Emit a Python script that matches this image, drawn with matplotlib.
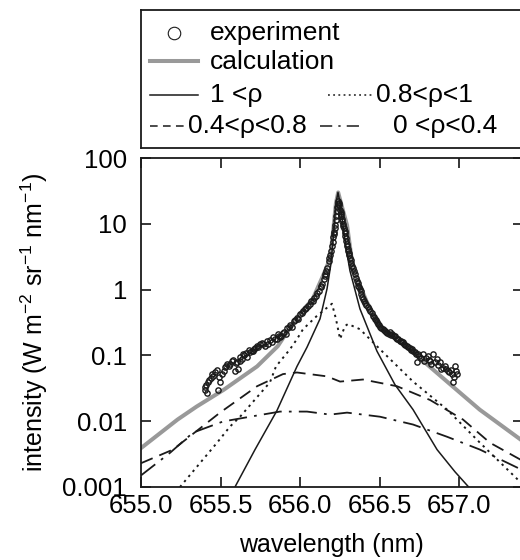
import matplotlib
matplotlib.use('Agg')
import matplotlib.pyplot as plt
from matplotlib.ticker import FixedLocator, FixedFormatter

plt.rcParams['font.family'] = ['Liberation Sans', 'DejaVu Sans']
plt.rcParams['mathtext.fontset'] = 'custom'
plt.rcParams['mathtext.rm'] = 'Liberation Sans'
plt.rcParams['mathtext.it'] = 'Liberation Sans:italic'

# measured spectrum (open circles)
exp_wl = [655.40, 655.41, 655.415, 655.421, 655.44, 655.447, 655.465, 655.484, 655.497, 655.509,
          655.528, 655.541, 655.553, 655.572, 655.591, 655.604, 655.61, 655.62, 655.635, 655.642,
          655.65, 655.667, 655.68, 655.686, 655.704, 655.71, 655.736, 655.748, 655.76, 655.78,
          655.79, 655.80, 655.824, 655.83, 655.855, 655.86, 655.874,
          655.88, 655.90, 655.91, 655.92, 655.94, 655.95, 655.96, 655.98, 655.99, 656.00,
          656.02, 656.03, 656.04, 656.06, 656.07, 656.08, 656.10, 656.11, 656.12, 656.13,
          656.14, 656.15, 656.155, 656.165, 656.17, 656.18, 656.19, 656.195, 656.20, 656.205,
          656.21, 656.215, 656.22, 656.225, 656.228, 656.232, 656.235, 656.24, 656.245, 656.252,
          656.258, 656.264, 656.27, 656.277, 656.283, 656.289, 656.295, 656.302, 656.308, 656.314,
          656.322, 656.333, 656.345, 656.358, 656.367, 656.377, 656.386, 656.396, 656.41, 656.428,
          656.44, 656.459, 656.47, 656.484, 656.495, 656.503, 656.52, 656.535, 656.55, 656.566,
          656.58, 656.597, 656.61, 656.629, 656.64, 656.648, 656.66, 656.673, 656.69, 656.704,
          656.723, 656.736, 656.742, 656.774, 656.78, 656.805, 656.818, 656.836, 656.849, 656.881,
          656.888, 656.912, 656.931, 656.956, 656.962, 656.975, 656.987,
          655.405, 655.43, 655.455, 655.475, 655.49, 655.52, 655.535, 655.56, 655.58, 655.595,
          655.625, 655.66, 655.695, 655.72, 655.73, 655.77, 655.81, 655.84, 655.865,
          655.89, 655.93, 655.97, 656.01, 656.05, 656.09, 656.135, 656.16, 656.185, 656.212,
          656.218, 656.238, 656.248, 656.255, 656.261, 656.267, 656.273, 656.28, 656.286, 656.292,
          656.298, 656.305, 656.311, 656.318, 656.327, 656.339, 656.351, 656.362, 656.372, 656.381,
          656.391, 656.403, 656.418, 656.434, 656.45, 656.465, 656.477, 656.49, 656.51, 656.527,
          656.543, 656.558, 656.573, 656.59, 656.603, 656.618, 656.635,
          656.655, 656.68, 656.695, 656.71, 656.73, 656.75, 656.76, 656.79, 656.81, 656.825,
          656.86, 656.87, 656.90, 656.92, 656.94, 656.95, 656.97, 656.98]
exp_int = [0.030, 0.035, 0.027, 0.039, 0.045, 0.052, 0.055, 0.030, 0.040, 0.052,
           0.066, 0.073, 0.068, 0.081, 0.057, 0.079, 0.062, 0.095, 0.087, 0.104,
           0.100, 0.094, 0.120, 0.112, 0.116, 0.125, 0.133, 0.148, 0.155, 0.138,
           0.165, 0.148, 0.159, 0.190, 0.177, 0.210, 0.190,
           0.20, 0.23, 0.21, 0.26, 0.29, 0.27, 0.33, 0.37, 0.36, 0.42,
           0.47, 0.50, 0.53, 0.60, 0.66, 0.68, 0.80, 0.88, 0.95, 1.10,
           1.2, 1.45, 1.6, 1.9, 2.1, 2.7, 3.4, 3.9, 4.6, 5.3,
           6.2, 7.6, 9.5, 11.5, 13, 15.5, 18, 22, 21, 16,
           14, 12, 10, 8.5, 7.2, 6.0, 5.0, 4.2, 3.6, 3.0,
           2.5, 2.1, 1.7, 1.36, 1.15, 1.03, 0.85, 0.72, 0.62, 0.55,
           0.48, 0.40, 0.36, 0.32, 0.29, 0.27, 0.25, 0.233, 0.22, 0.226,
           0.21, 0.197, 0.18, 0.165, 0.16, 0.159, 0.145, 0.138, 0.13, 0.124,
           0.112, 0.079, 0.104, 0.104, 0.081, 0.097, 0.081, 0.104, 0.079, 0.079,
           0.0615, 0.068, 0.057, 0.052, 0.039, 0.068, 0.052,
           0.033, 0.042, 0.048, 0.060, 0.047, 0.058, 0.070, 0.075, 0.085, 0.078,
           0.082, 0.108, 0.118, 0.128, 0.140, 0.150, 0.170, 0.180, 0.195,
           0.22, 0.27, 0.34, 0.44, 0.57, 0.74, 1.15, 1.75, 3.0, 7.0,
           8.6, 20, 19, 15, 13, 11, 9.2, 7.8, 6.6, 5.5,
           4.6, 3.9, 3.3, 2.8, 2.3, 1.9, 1.5, 1.25, 1.1, 0.95,
           0.78, 0.67, 0.58, 0.51, 0.44, 0.38, 0.34, 0.30, 0.26, 0.24,
           0.23, 0.215, 0.205, 0.20, 0.185, 0.175, 0.168,
           0.15, 0.135, 0.122, 0.118, 0.105, 0.098, 0.092, 0.090, 0.085, 0.075,
           0.088, 0.071, 0.065, 0.062, 0.055, 0.060, 0.047, 0.058]

# total calculation (thick grey)
calc_wl = [655.00, 655.23, 655.35, 655.52, 655.73, 655.86, 655.98, 656.08, 656.145, 656.19,
           656.21, 656.226, 656.24, 656.258, 656.296, 656.333, 656.42, 656.50, 656.74, 656.93,
           657.13, 657.40]
calc_int = [0.0039, 0.0106, 0.0167, 0.030, 0.068, 0.138, 0.38, 0.72, 1.63, 3.0,
            8.5, 20.5, 30, 20.5, 9.5, 2.1, 0.65, 0.28, 0.097, 0.039,
            0.015, 0.0050]

# contribution 1 < rho
r1_wl = [655.591, 655.717, 655.855, 655.981, 656.044, 656.126, 656.170, 656.195, 656.214, 656.226,
         656.239, 656.252, 656.270, 656.296, 656.314, 656.377, 656.484, 656.597, 656.711, 656.862,
         656.975, 657.069]
r1_int = [0.001, 0.0037, 0.0145, 0.068, 0.133, 0.36, 1.03, 2.5, 8.5, 20.5,
          30, 20.5, 9.5, 3.5, 1.94, 0.51, 0.116, 0.036, 0.015, 0.0037,
          0.0017, 0.00095]

# contribution 0.8 < rho < 1
r08_wl = [655.245, 655.478, 655.560, 655.623, 655.811, 655.849, 655.937, 655.981, 656.019, 656.107,
          656.201, 656.226, 656.252, 656.283, 656.302, 656.377, 656.503, 656.711, 656.925, 657.132,
          657.40]
r08_int = [0.001, 0.0047, 0.0083, 0.0117, 0.039, 0.068, 0.124, 0.177, 0.25, 0.40,
           0.61, 0.36, 0.177, 0.28, 0.30, 0.25, 0.124, 0.040, 0.015, 0.0047,
           0.0011]

# contribution 0.4 < rho < 0.8
r04_wl = [655.00, 655.201, 655.497, 655.730, 655.893, 655.981, 656.170, 656.252, 656.396, 656.610,
          656.818, 657.025, 657.195, 657.40]
r04_int = [0.0023, 0.0037, 0.0135, 0.034, 0.052, 0.055, 0.048, 0.040, 0.043, 0.034,
           0.021, 0.0106, 0.0047, 0.0025]

# contribution 0 < rho < 0.4
r00_wl = [655.00, 655.182, 655.327, 655.516, 655.686, 655.874, 656.044, 656.189, 656.296, 656.503,
          656.711, 656.925, 657.132, 657.40]
r00_int = [0.0015, 0.0033, 0.0067, 0.0099, 0.0117, 0.014, 0.014, 0.0126, 0.0135, 0.0117,
           0.0089, 0.0058, 0.0037, 0.0018]

x_ticks = [655.0, 655.5, 656.0, 656.5, 657.0, 657.5]
y_ticks = [0.001, 0.01, 0.1, 1, 10, 100]
y_labels = ['0.001', '0.01', '0.1', '1', '10', '100']

fig = plt.figure(figsize=(5.2, 5.6), dpi=100)
ax = fig.add_axes([141/520, 73/560, 381.6/520, 329/560])

dot = (0, (1.2, 2.2))
dash = (0, (7, 4))
dashdot = (0, (10, 4, 1.5, 4))

ax.plot(calc_wl, calc_int, color='#999999', lw=2.9, zorder=2)
ax.plot(r1_wl, r1_int, color='#1a1a1a', lw=1.1, zorder=3)
ax.plot(r08_wl, r08_int, color='#1a1a1a', lw=1.4, ls=dot, zorder=3)
ax.plot(r04_wl, r04_int, color='#1a1a1a', lw=1.3, ls=dash, zorder=3)
ax.plot(r00_wl, r00_int, color='#1a1a1a', lw=1.3, ls=dashdot, zorder=3)
ax.plot(exp_wl, exp_int, 'o', ms=3.8, mfc='none', mec='#1a1a1a', mew=1.0, zorder=4)

ax.set_yscale('log')
ax.set_xlim(655.0, 657.4)
ax.set_ylim(0.001, 100)
ax.xaxis.set_major_locator(FixedLocator(x_ticks))
ax.set_xticklabels(['%.1f' % t for t in x_ticks])
ax.yaxis.set_major_locator(FixedLocator(y_ticks))
ax.yaxis.set_major_formatter(FixedFormatter(y_labels))
ax.yaxis.set_minor_locator(FixedLocator([]))
ax.tick_params(direction='in', length=7, width=1.1, top=True, right=True, labelsize=18.5)
ax.tick_params(axis='x', pad=5)
ax.tick_params(axis='y', pad=10)
for s in ax.spines.values():
    s.set_linewidth(1.3)
    s.set_color('#1a1a1a')

ax.set_xlabel('wavelength (nm)', fontsize=18, labelpad=11)
ax.set_ylabel(r'intensity (W m$^{-2}$ sr$^{-1}$ nm$^{-1}$)', fontsize=18, labelpad=9)

# legend box drawn by hand (pixel units of the figure)
lax = fig.add_axes([141/520, 1 - 148/560, 399/520, 138/560])
lax.set_xlim(141, 540)
lax.set_ylim(148, 10)
lax.set_xticks([])
lax.set_yticks([])
for s in lax.spines.values():
    s.set_linewidth(1.3)
    s.set_color('#1a1a1a')
k = '#1a1a1a'
fs = 19
lax.plot([174], [33], 'o', ms=9, mfc='none', mec=k, mew=0.8)
lax.text(210, 33, 'experiment', fontsize=fs, va='center')
lax.plot([150, 198], [61, 61], color='#999999', lw=2.9)
lax.text(210, 62, 'calculation', fontsize=fs, va='center')
lax.plot([150, 198], [95, 95], color=k, lw=1.1)
lax.text(210, 95, '1 <ρ', fontsize=fs, va='center')
lax.plot([328, 373], [95, 95], color=k, lw=1.1, ls=dot)
lax.text(376, 95, '0.8<ρ<1', fontsize=fs, va='center')
lax.plot([150, 187], [126, 126], color=k, lw=1.1, ls=(0, (5, 3.5)))
lax.text(188, 126, '0.4<ρ<0.8', fontsize=fs, va='center')
lax.plot([320, 364], [126, 126], color=k, lw=1.1, ls=(0, (8, 4, 1.5, 4)))
lax.text(393, 126, '0 <ρ<0.4', fontsize=fs, va='center')

fig.savefig('out.png', dpi=100)
